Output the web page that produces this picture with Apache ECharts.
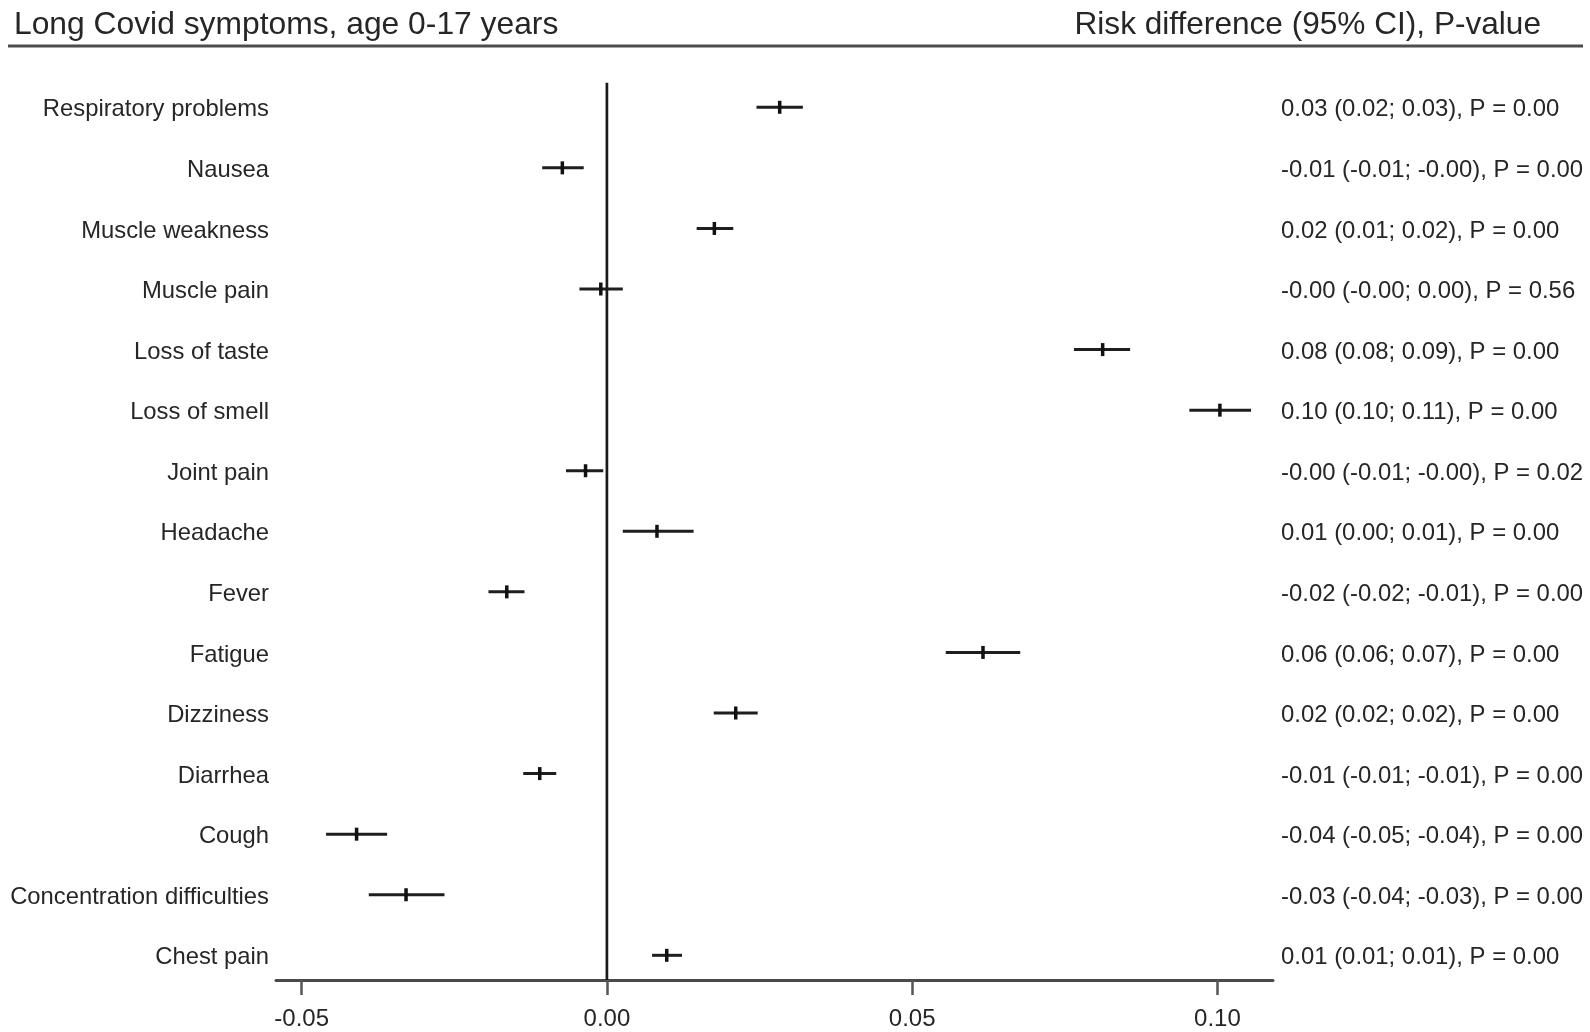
<!DOCTYPE html>
<html>
<head>
<meta charset="utf-8">
<script src="https://cdn.jsdelivr.net/npm/echarts@6/dist/echarts.min.js"></script>
<style>
html, body { margin: 0; padding: 0; background: #ffffff; }
#chart { width: 1590px; height: 1032px; }
</style>
</head>
<body>
<div id="chart"></div>
<script>
// ---- Data (top to bottom as printed) ----
const symptoms = [
  'Respiratory problems', 'Nausea', 'Muscle weakness', 'Muscle pain', 'Loss of taste',
  'Loss of smell', 'Joint pain', 'Headache', 'Fever', 'Fatigue',
  'Dizziness', 'Diarrhea', 'Cough', 'Concentration difficulties', 'Chest pain'
];
const estimates = [0.0283, -0.0073, 0.0176, -0.0010, 0.0812, 0.1004, -0.0035, 0.0082, -0.0164, 0.0616, 0.0211, -0.0110, -0.0410, -0.0329, 0.0098];
const lowerCI   = [0.0245, -0.0106, 0.0147, -0.0045, 0.0765, 0.0954, -0.0067, 0.0026, -0.0194, 0.0555, 0.0175, -0.0137, -0.0460, -0.0390, 0.0074];
const upperCI   = [0.0321, -0.0038, 0.0207, 0.0026, 0.0857, 0.1055, -0.0006, 0.0142, -0.0135, 0.0677, 0.0247, -0.0083, -0.0360, -0.0266, 0.0123];
const resultLabels = [
  '0.03 (0.02; 0.03), P = 0.00',
  '-0.01 (-0.01; -0.00), P = 0.00',
  '0.02 (0.01; 0.02), P = 0.00',
  '-0.00 (-0.00; 0.00), P = 0.56',
  '0.08 (0.08; 0.09), P = 0.00',
  '0.10 (0.10; 0.11), P = 0.00',
  '-0.00 (-0.01; -0.00), P = 0.02',
  '0.01 (0.00; 0.01), P = 0.00',
  '-0.02 (-0.02; -0.01), P = 0.00',
  '0.06 (0.06; 0.07), P = 0.00',
  '0.02 (0.02; 0.02), P = 0.00',
  '-0.01 (-0.01; -0.01), P = 0.00',
  '-0.04 (-0.05; -0.04), P = 0.00',
  '-0.03 (-0.04; -0.03), P = 0.00',
  '0.01 (0.01; 0.01), P = 0.00'
];
const tickValues = [-0.05, 0.00, 0.05, 0.10];
const titleLeft = 'Long Covid symptoms, age 0-17 years';
const titleRight = 'Risk difference (95% CI), P-value';
const xMin = -0.0542;
const xMax = 0.1091;

// ---- Chart ----
const FONT = '"Liberation Sans", Arial, Helvetica, sans-serif';
const TEXT = '#262626';

const ciData = symptoms.map((s, i) => [i, lowerCI[i], estimates[i], upperCI[i]]);

function renderCI(params, api) {
  const idx = api.value(0);
  const a = api.coord([api.value(1), idx]);
  const m = api.coord([api.value(2), idx]);
  const b = api.coord([api.value(3), idx]);
  return {
    type: 'group',
    children: [
      { type: 'line', shape: { x1: a[0], y1: a[1], x2: b[0], y2: b[1] },
        style: { stroke: '#1e1e1e', lineWidth: 3 } },
      { type: 'line', shape: { x1: m[0], y1: m[1] - 6.5, x2: m[0], y2: m[1] + 6.5 },
        style: { stroke: '#111111', lineWidth: 3.5 } }
    ]
  };
}

const chart = echarts.init(document.getElementById('chart'), null, { renderer: 'canvas' });
chart.setOption({
  animation: false,
  backgroundColor: '#ffffff',
  title: [
    { text: titleLeft, left: 14, top: 9, padding: 0,
      textStyle: { fontSize: 31.8, fontWeight: 'normal', color: TEXT, fontFamily: FONT } },
    { text: titleRight, right: 49, top: 9, padding: 0,
      textStyle: { fontSize: 31.6, fontWeight: 'normal', color: TEXT, fontFamily: FONT } }
  ],
  graphic: [
    { type: 'line', shape: { x1: 8, y1: 46, x2: 1583, y2: 46 },
      style: { stroke: '#4d4d4d', lineWidth: 3 }, silent: true }
  ],
  grid: [
    { left: 276, right: 317, top: 77, bottom: 46.4 },   // data marks
    { left: 276, right: 317, top: 82.7, bottom: 52 },   // x axis + zero line
    { left: 276, right: 317, top: 79.5, bottom: 43.9 }  // row labels
  ],
  xAxis: [
    { gridIndex: 0, type: 'value', min: xMin, max: xMax, show: false },
    { gridIndex: 1, type: 'value', min: xMin, max: xMax, position: 'bottom',
      axisLine: { show: true, lineStyle: { color: '#4a4a4a', width: 3 } },
      axisTick: { show: true, customValues: tickValues, length: 15,
                  lineStyle: { color: '#555555', width: 2.5 } },
      axisLabel: { show: true, customValues: tickValues, formatter: v => v.toFixed(2),
                   fontSize: 24, color: TEXT, fontFamily: FONT, margin: 27 },
      splitLine: { show: false } },
    { gridIndex: 2, type: 'value', min: xMin, max: xMax, show: false }
  ],
  yAxis: [
    { gridIndex: 0, type: 'category', data: symptoms, inverse: true, show: false },
    { gridIndex: 1, type: 'value', min: 0, max: 1, show: false },
    { gridIndex: 2, type: 'category', data: symptoms, inverse: true, position: 'left',
      axisLine: { show: false }, axisTick: { show: false }, splitLine: { show: false },
      axisLabel: { fontSize: 23.8, color: TEXT, fontFamily: FONT, margin: 7, interval: 0 } },
    { gridIndex: 2, type: 'category', data: resultLabels, inverse: true, position: 'right',
      axisLine: { show: false }, axisTick: { show: false }, splitLine: { show: false },
      axisLabel: { fontSize: 23.9, color: TEXT, fontFamily: FONT, margin: 8, interval: 0, align: 'left' } }
  ],
  series: [
    { type: 'line', xAxisIndex: 1, yAxisIndex: 1, data: [[0, 0], [0, 1]],
      symbol: 'none', silent: true, lineStyle: { color: '#1a1a1a', width: 2.7 } },
    { type: 'custom', xAxisIndex: 0, yAxisIndex: 0, data: ciData,
      encode: { x: [1, 2, 3], y: 0 }, renderItem: renderCI, silent: true }
  ]
});
</script>
</body>
</html>
